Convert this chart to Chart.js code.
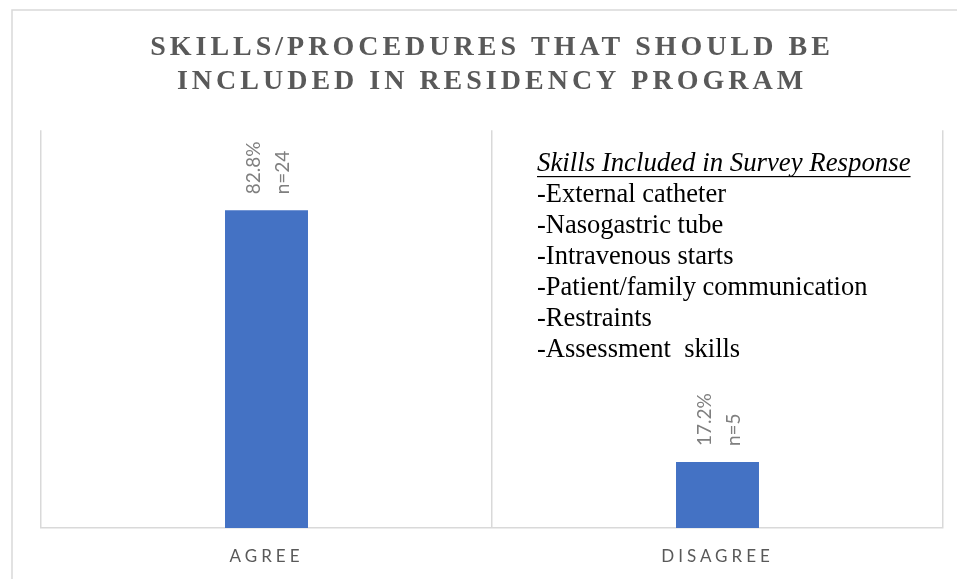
<!DOCTYPE html>
<html>
<head>
<meta charset="utf-8">
<script src="https://cdn.jsdelivr.net/npm/chart.js@4.4.1/dist/chart.umd.min.js"></script>
<style>
    html, body { margin: 0; padding: 0; background: #fff; }
    #wrap { width: 957px; height: 579px; }
</style>
</head>
<body>
<div id="wrap"><canvas id="skillsChart"></canvas></div>
<script>
const categories = ['AGREE', 'DISAGREE'];
const percents = [82.8, 17.2];
const counts = [24, 5];
const titleLines = ['SKILLS/PROCEDURES THAT SHOULD BE', 'INCLUDED IN RESIDENCY PROGRAM'];
const skillsHeading = 'Skills Included in Survey Response';
const skills = [
    '-External catheter',
    '-Nasogastric tube',
    '-Intravenous starts',
    '-Patient/family communication',
    '-Restraints',
    '-Assessment  skills'
];

/* ===== frame, rotated value labels, skills box ===== */
const decorPlugin = {
    id: 'decor',

    beforeDraw(chart) {
        const ctx = chart.ctx;
        ctx.save();
        ctx.strokeStyle = '#d9d9d9';
        ctx.lineWidth = 1.5;
        ctx.strokeRect(12, 10, chart.width + 20, chart.height + 20);
        ctx.restore();
        // spacing for the title
        ctx.letterSpacing = '4px';
    },

    afterDatasetsDraw(chart) {
        const ctx = chart.ctx;
        const bars = chart.getDatasetMeta(0).data;

        ctx.save();
        ctx.letterSpacing = '0px';

        // value labels above bars, turned upright
        ctx.fillStyle = '#7f7f7f';
        ctx.font = '19px Lato';
        ctx.textAlign = 'left';
        ctx.textBaseline = 'middle';
        bars.forEach((bar, i) => {
            ctx.save();
            ctx.translate(bar.x, bar.y - 16);
            ctx.rotate(-Math.PI / 2);
            ctx.fillText(percents[i].toFixed(1) + '%', 0, -13);
            ctx.fillText('n=' + counts[i], 0, 16);
            ctx.restore();
        });

        // skills text box
        const x0 = 537;
        let y = 164;
        ctx.fillStyle = '#000';
        ctx.textBaseline = 'middle';
        ctx.font = 'italic 26.8px "Liberation Serif"';
        ctx.fillText(skillsHeading, x0, y);
        const w = ctx.measureText(skillsHeading).width;
        ctx.fillRect(x0, y + 12, w, 1.2);

        ctx.font = '26.5px "Liberation Serif"';
        skills.forEach(s => {
            y += 31;
            ctx.fillText(s, x0, y);
        });
        ctx.restore();

        // spacing for the category labels (drawn after datasets)
        ctx.letterSpacing = '4px';
    },

    afterDraw(chart) {
        chart.ctx.letterSpacing = '0px';
    }
};

const ctx = document.getElementById('skillsChart');

new Chart(ctx, {
    type: 'bar',

    plugins: [decorPlugin],

    data: {
        labels: categories,
        datasets: [{
            data: percents,
            backgroundColor: '#4472C4',
            barPercentage: 0.184,
            categoryPercentage: 1
        }]
    },

    options: {
        responsive: true,
        maintainAspectRatio: false,
        animation: false,

        layout: {
            padding: { left: 41, right: 14, top: 0, bottom: 0 }
        },

        plugins: {
            legend: { display: false },
            tooltip: { enabled: false },
            title: {
                display: true,
                text: titleLines,
                color: '#595959',
                font: {
                    family: '"Liberation Serif"',
                    weight: 'bold',
                    size: 28,
                    lineHeight: 1.2
                },
                padding: { top: 31, bottom: 32 }
            }
        },

        scales: {
            x: {
                afterFit(scale) {
                    scale.height = 51;
                },
                grid: {
                    offset: true,
                    color: '#d9d9d9',
                    lineWidth: 1.5,
                    drawTicks: false
                },
                border: { color: '#d9d9d9', width: 1.5 },
                ticks: {
                    z: 1,
                    color: '#595959',
                    padding: 18,
                    font: { family: 'Lato', size: 17 }
                }
            },
            y: {
                display: false,
                min: 0,
                max: 103.7
            }
        }
    }
});
</script>
</body>
</html>
